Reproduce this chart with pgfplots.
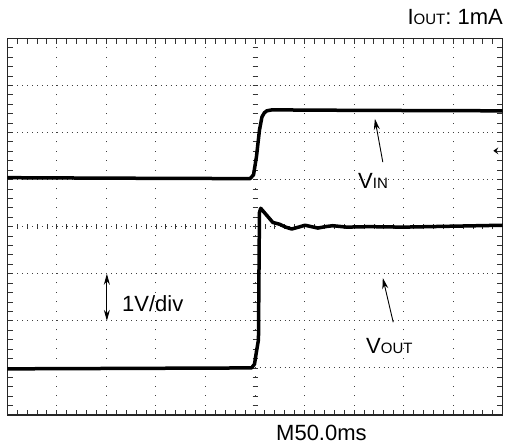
\documentclass[border=0pt]{standalone}
\usepackage{pgfplots}
\pgfplotsset{compat=1.18}
\usetikzlibrary{arrows.meta}
\usepackage{fontspec}
\setmainfont{Liberation Sans}

\newcommand{\lbl}{\fontsize{22bp}{24bp}\selectfont}
\newcommand{\sm}[1]{{\fontsize{15bp}{16bp}\selectfont #1}}

\begin{document}
\begin{tikzpicture}
% scope in screen divisions: 10 x 8 div
\begin{scope}[x=49.54bp, y=47.09bp]
  % small ticks on the centre lines
  \foreach \i in {1,...,49} \draw[black!80, line width=0.8bp] (\i/5,4) ++(0,-2.5bp) -- ++(0,5bp);
  \foreach \j in {1,...,39} \draw[black!80, line width=0.8bp] (5,\j/5) ++(-2.5bp,0) -- ++(5bp,0);
  % trigger level marker
  \fill (9.81,5.61) -- ++(5bp,3.5bp) -- ++(-1.8bp,-3.5bp) -- ++(1.8bp,-3.5bp) -- cycle;
\end{scope}

\begin{axis}[
    at={(0,0)}, anchor=south west,
    scale only axis,
    width=495.4bp, height=376.7bp,
    xmin=0, xmax=10,
    ymin=0, ymax=8,
    xtick={0,...,10},
    ytick={0,...,8},
    minor x tick num=4,
    minor y tick num=4,
    xticklabels={}, yticklabels={},
    tick align=inside,
    major tick length=5.5bp,
    minor tick length=5.5bp,
    tick style={black!80, line width=0.9bp},
    grid=major,
    x grid style={black!75, line width=0.9bp, dash pattern=on 0.9bp off 8.5bp},
    y grid style={black!75, line width=0.9bp, dash pattern=on 0.9bp off 4.05bp},
    axis line style={black!85, line width=1.3bp},
    ]

    % VIN
    \addplot[black, line width=3.5bp, line join=round] coordinates {
    (0,5.04)(2,5.03)(4.90,5.02)(4.97,5.10)(5.03,5.49)(5.09,6.05)(5.14,6.33)
    (5.19,6.42)(5.24,6.46)(5.34,6.48)(7,6.47)(10,6.46)
    };

    % VOUT
    \addplot[black, line width=3.5bp, line join=round] coordinates {
    (0,0.98)(2.5,0.99)(4.93,1.0)(4.99,1.08)(5.03,1.35)(5.07,1.6)(5.08,3.0)
    (5.09,4.3)(5.115,4.39)(5.36,4.09)(5.5,4.05)(5.62,3.99)(5.74,3.95)(5.88,3.99)(6.01,4.03)
    (6.14,4.0)(6.27,3.97)(6.42,4.0)(6.57,4.02)(6.85,3.99)(7.3,4.0)(8,3.99)(9,4.01)(10,4.03)
    };

    \draw[-{Stealth[length=11bp,width=6bp]}, line width=0.9bp] (axis cs:7.58,5.37) -- (axis cs:7.42,6.29);
    \draw[-{Stealth[length=11bp,width=6bp]}, line width=0.9bp] (axis cs:7.79,1.97) -- (axis cs:7.58,2.91);
    \draw[{Stealth[length=11bp,width=6bp]}-{Stealth[length=11bp,width=6bp]}, line width=0.9bp] (axis cs:2.01,2.0) -- (axis cs:2.01,3.0);
\end{axis}

\node[anchor=base east, inner sep=0pt] at (495.7bp,390bp) {\lbl I\sm{OUT}: 1mA};
\node[anchor=base west, inner sep=0pt] at (350.7bp,226.7bp) {\lbl V\sm{IN}};
\node[anchor=base west, inner sep=0pt] at (358.7bp,61.7bp) {\lbl V\sm{OUT}};
\node[anchor=base west, inner sep=0pt] at (114.7bp,103.3bp) {\lbl 1V/div};
\node[anchor=base west, inner sep=0pt] at (268.7bp,-25bp) {\lbl M50.0ms};

\pgfresetboundingbox
\path[use as bounding box] (-7.3bp,-33bp) rectangle (500.7bp,415bp);
\end{tikzpicture}
\end{document}
